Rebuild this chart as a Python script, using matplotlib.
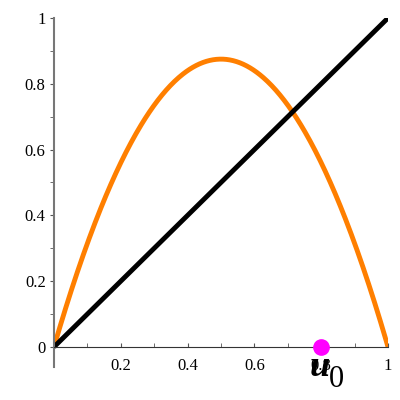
import numpy as np
import matplotlib.pyplot as plt
from matplotlib.ticker import MultipleLocator

# logistic map f(x) = r x (1 - x) and the diagonal
r = 3.5
x = np.linspace(0, 1, 400)
f = r * x * (1 - x)
u0 = 0.8

fig = plt.figure(figsize=(4, 4), dpi=100)
ax = fig.add_axes([0.135, 0.0825, 0.835, 0.8725])

ax.plot(x, f, color='#ff7f00', lw=3.5, solid_capstyle='butt')
ax.plot([0, 1], [0, 1], color='black', lw=3.5, solid_capstyle='butt')
ax.plot([u0], [0], 'o', color='magenta', ms=11, clip_on=False, zorder=5)

ax.set_xlim(0, 1)
ax.set_ylim(-0.061, 1)

for s in ['top', 'right']:
    ax.spines[s].set_visible(False)
ax.spines['bottom'].set_position(('data', 0))
ax.spines['bottom'].set_color('#333333')
ax.spines['left'].set_color('#777777')
ax.spines['left'].set_linewidth(1.5)

ax.set_xticks([0.2, 0.4, 0.6, 0.8, 1])
ax.set_xticklabels(['0.2', '0.4', '0.6', '0.8', '1'])
ax.set_yticks([0, 0.2, 0.4, 0.6, 0.8, 1])
ax.set_yticklabels(['0', '0.2', '0.4', '0.6', '0.8', '1'])
ax.xaxis.set_minor_locator(MultipleLocator(0.1))
ax.yaxis.set_minor_locator(MultipleLocator(0.1))
ax.tick_params(axis='x', which='both', direction='in', length=3, color='#555555', pad=8)
ax.tick_params(axis='y', which='both', direction='out', length=3, color='#555555', pad=3)
for lab in ax.get_xticklabels() + ax.get_yticklabels():
    lab.set_fontfamily('Liberation Serif')
    lab.set_fontsize(12)

# u_0 label under the point
ax.annotate('u', xy=(u0, 0), xytext=(-1.4, -21), textcoords='offset points',
            ha='center', va='baseline', fontsize=26, fontweight='bold',
            fontstyle='italic', fontfamily='Liberation Serif')
ax.annotate('0', xy=(u0, 0), xytext=(11, -29), textcoords='offset points',
            ha='center', va='baseline', fontsize=22, fontfamily='Liberation Serif')

fig.savefig('out.png', dpi=100)
